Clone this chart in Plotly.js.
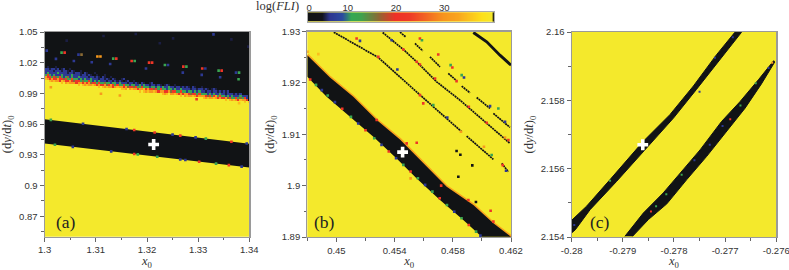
<!DOCTYPE html>
<html><head><meta charset="utf-8">
<script src="https://cdn.plot.ly/plotly-3.0.1.min.js"></script>
<style>html,body{margin:0;padding:0;background:#fff}#c{width:789px;height:270px}</style>
</head><body><div id="c"></div>
<script>
// ---------- colour scale levels (bar units, labels 0,10,20,30 sit at barTickVals)
const barLevels=[0,1,2,3,4,5,6,7,8,9,10,11,12,13,14,15,16,17,18,19,20,21,22,23,24,25,26,27,28,29,30,31,32,33,34,35,36,37,38,38.6];
const barTickVals=[0.3,8.3,18.3,28.3];
const barTickText=['0','10','20','30'];
const BLUE=5,DIM=3.5,GREEN=10,BROWN=14.5,RED=19.5,ORANGE=29,LIGHT=33;
const LEVEL={K:0,n:DIM,B:BLUE,G:GREEN,W:BROWN,R:RED,O:ORANGE,L:LIGHT,Y:38.6};

// ---------- panel (a)
const aXTicks=[1.3,1.31,1.32,1.33,1.34];
const aXText=['1.3','1.31','1.32','1.33','1.34'];
const aYTicks=[0.87,0.9,0.93,0.96,0.99,1.02,1.05];
const aYText=['0.87','0.9','0.93','0.96','0.99','1.02','1.05'];
const aBandX=[1.3,1.34,1.34,1.3];
const aBandY=[0.9648,0.9407,0.9176,0.941];
const aTopX=[1.3,1.34,1.34,1.3];
const aTopY=[1.0168,1.0168,1.05,1.05];
// fringe cells: 100 columns, rows every 0.002 from 1.016 down
const aCellX=[];for(let c=0;c<100;c++)aCellX.push(1.3002+c*0.0004);
const aCellY=[1.016,1.014,1.012,1.01,1.008,1.006,1.004,1.002,1.0,.998,.996,.994,.992,.99,.988,.986,.984,.982];
const aRowOffset=[0,0,0,0,0,0,0,2,8,16,26,36,46,56,66,76,88,97];
const aRows=[
"KnKKKnKKKK",
"BBnBBnBKnBKKnKK",
"BBBBnBBBnBBnKBnKKnKKK",
"BGBBBBGBBBBnBBnBBnKBnKKKnKK",
"GRGBGBBBGBBBBGBBBnBBnBnKKnKKKnK",
"ORRGRWGRGBGWBGBBGBBBBnBBnBnKBnKKnK",
"LORORRORRWRGGRGGBGBGBBGBBBnBBnBnKBnKKnBK",
"LOLOORLORRORWRRGWGGRGBGBGBBBnBBnBnBnKnBKKnK",
"LYOLOOOROOROROWRRGRGGWGGBGGBGBBBnBBnBnKBnKKnBKK",
"LYLOLOOLORORROWRORGRGGRGGBGGBBGBGBBnBBnBnKnBnKKnKK",
"LYLOLOOROLOOROWRRWRGGRGGGBGGBGBGBBGBBnBBnBnBnKBnKKnK",
"YLLOYOLOOROOLRORRWRGRGGBGGBGBBGBBBBnBBnBBnBnKnBn",
"LYLOLOOLOROORROWRRGGRGGBGGBGBGBBnBBnBBnBnBnB",
"YLOLYOOLOROROORWRRGRGGGBGBGBBGBBnBBBnBnB",
"LYOLOOLOROOORWRGROGRGGBGBGBBBGBBB",
"YLOLOOLORORROWRGGRGWGRB",
"LYLOLORLOOR",
"LYL"];
const aCellZ=aRows.map((row,r)=>{const z=[];for(let c=0;c<100;c++){const i=c-aRowOffset[r];const ch=i<0?'Y':(i<row.length?row[i]:'K');z.push(LEVEL[ch]);}return z;});
const aSpeckX=[1.3033,1.3039,1.3066,1.3072,1.3103,1.3109,1.3134,1.314,1.317,1.3176,1.3204,1.321,1.3235,1.3241,1.3271,1.3277,1.334,1.3346,1.3308,1.3314,1.3374,1.338,
 1.3022,1.3057,1.3092,1.3128,1.3198,1.327,1.3307,1.3343,1.3379,
 1.3115,1.3043,1.3004,1.3178,1.3225,1.3251,1.333,1.3365,1.3398,
 1.3012,1.311,1.3147,1.3297,1.338,
 1.3012,1.3075,1.316,1.3175,1.3215,1.325,1.3265,1.3295,1.3315,1.3365,1.3395,
 1.302,1.3055,1.313,1.3175,1.3182,1.322,1.3265,1.3275,1.3302,1.3335,1.336,1.3385];
const aSpeckY=[1.0298,1.0298,1.0279,1.0279,1.026,1.026,1.024,1.024,1.0217,1.0217,1.0201,1.0201,1.0178,1.0178,1.0162,1.0162,1.0123,1.0123,1.0143,1.0143,1.0103,1.0103,
 1.0237,1.0217,1.0204,1.0188,1.0143,1.0103,1.0081,1.0058,1.0039,
 1.0461,1.0416,1.0318,1.048,1.039,1.0438,1.0477,1.0428,1.0357,
 .996,.9896,.9879,.9843,.9805,
 .9641,.9603,.9552,.9543,.9518,.9497,.9488,.947,.9458,.9428,.941,
 .9398,.9378,.9334,.9308,.9304,.9281,.9255,.9249,.9233,.9214,.9199,.9185];
const aSpeckV=[GREEN,RED,BLUE,BROWN,ORANGE,ORANGE,GREEN,RED,RED,GREEN,RED,RED,GREEN,BLUE,RED,GREEN,GREEN,RED,RED,BLUE,BLUE,GREEN,
 BLUE,BLUE,BLUE,BLUE,BLUE,BLUE,BLUE,BLUE,GREEN,
 DIM,DIM,BLUE,DIM,DIM,DIM,BLUE,DIM,DIM,
 ORANGE,ORANGE,ORANGE,RED,LIGHT,
 GREEN,BLUE,BLUE,RED,RED,BLUE,RED,BLUE,GREEN,RED,BLUE,
 GREEN,BLUE,BLUE,RED,GREEN,GREEN,BLUE,BLUE,RED,GREEN,RED,BLUE];
const aCross=[[1.3213],[0.9401]];

// ---------- panel (b)
const bXTicks=[0.45,0.454,0.458,0.462];
const bXText=['0.45','0.454','0.458','0.462'];
const bYTicks=[1.89,1.9,1.91,1.92,1.93];
const bYText=['1.89','1.9','1.91','1.92','1.93'];
const bUpperX=[.448,.44956,.45116,.45277,.45437,.45574,.45758,.45941,.46079,.462];
const bUpperY=[1.9254,1.92105,1.91729,1.91276,1.909,1.90498,1.89979,1.89622,1.89266,1.89006];
const bLowerX=[.45998,.45872,.45712,.45552,.45414,.45254,.45093,.44933,.448];
const bLowerY=[1.89006,1.89331,1.89719,1.90141,1.9053,1.90951,1.9134,1.91729,1.92118];
const bLineX=[.44982,.45288,.45448,.45574,.45666,.45861,null,
 .45318,.4546,.45552,.45689,.45849,.46033,.46193,null,
 .45437,.45476,null,.4554,.45593,null,.45643,.45712,null,.45769,.45826,null,.45861,.45918,null,.45964,.46056,null,.46079,.46193,null,
 .45895,.46079,null,.46136,.46182];
const bLineY=[1.92987,1.92494,1.92086,1.91762,1.91535,1.91049,null,
 1.92981,1.9265,1.9241,1.92021,1.91664,1.91211,1.90822,null,
 1.92987,1.92896,null,1.92767,1.92624,null,1.92507,1.92313,null,1.92183,1.92041,null,1.91937,1.91807,null,1.91716,1.91502,null,1.91405,1.91133,null,
 1.90964,1.90511,null,1.90433,1.90271];
const bThickX=[.45941,.46033,.46124,.462];
const bThickY=[1.92981,1.92799,1.9254,1.92345];
const bSpeckX=[.45139,.45162,.45288,.45419,.45574,.45597,.45666,.45762,.45856,
 .4538,.4546,.45552,.45574,.45678,.4591,.46033,.46182,.46159,
 .45574,.45588,.457,.45785,.45797,.45861,.45877,.45826,.46113,.46056,.46159,.46014,.46067,.46166,.46143,
 .45552,.4551,.4606,.44876,.448,
 .45826,.45852,.45934,.45838,.45959,
 .4482,.4486,.449,.4494,.4499,.4504,.451,.4515,.452,.4526,.4531,.4536,.4541,.4546,.4551,.4556,.4561,.4566,.4571,.4576,.4581,.4586,.4591,.4596,.4599,
 .45277,.45483,.4572,.45907,.46079];
const bSpeckY=[1.92864,1.92818,1.92507,1.92261,1.91762,1.916,1.91567,1.91327,1.91049,
 1.92831,1.9265,1.9241,1.92358,1.92086,1.91535,1.91224,1.90887,1.90938,
 1.92864,1.92831,1.92553,1.92345,1.923,1.92151,1.92105,1.92034,1.91502,1.91548,1.91243,1.90757,1.90595,1.9029,1.904,
 1.90835,1.90141,1.89512,1.92559,1.92605,
 1.90673,1.90601,1.90394,1.90173,1.89681,
 1.92066,1.91962,1.91858,1.91754,1.91625,1.91495,1.91339,1.91209,1.91079,1.90923,1.90793,1.90664,1.90534,1.90404,1.90274,1.90144,1.90014,1.89884,1.89754,1.89624,1.89494,1.89364,1.89234,1.89104,1.89026,
 1.91276,1.90822,1.9,1.8972,1.8930];
const bSpeckV=[RED,BLUE,RED,BLUE,RED,RED,GREEN,BLUE,ORANGE,
 BLUE,RED,RED,RED,RED,RED,RED,RED,ORANGE,
 RED,GREEN,RED,GREEN,RED,GREEN,BLUE,RED,GREEN,BLUE,BLUE,ORANGE,GREEN,BLUE,RED,
 RED,ORANGE,RED,LIGHT,ORANGE,
 0,0,0,0,0,
 RED,GREEN,BLUE,GREEN,BLUE,RED,GREEN,BLUE,RED,GREEN,BLUE,RED,BLUE,GREEN,RED,GREEN,BLUE,GREEN,RED,GREEN,BLUE,GREEN,RED,GREEN,BLUE,
 RED,RED,RED,RED,RED];
const bCross=[[0.45455],[1.90653]];

// ---------- panel (c)
const cXTicks=[-0.28,-0.279,-0.278,-0.277,-0.276];
const cXText=['-0.28','-0.279','-0.278','-0.277','-0.276'];
const cYTicks=[2.154,2.156,2.158,2.16];
const cYText=['2.154','2.156','2.158','2.16'];
const cBand1X=[-.28,-.27971,-.27925,-.2786,-.27808,-.27762,-.27717,-.27681,-.27668,-.2771,-.27756,-.27801,-.27853,-.27912,-.27964,-.27993,-.28];
const cBand1Y=[2.15449,2.1549,2.15568,2.1568,2.15758,2.15842,2.15933,2.15999,2.15999,2.15918,2.15832,2.15748,2.1566,2.15563,2.1548,2.15421,2.15412];
const cBand2X=[-.27896,-.2786,-.27821,-.27788,-.27749,-.27707,-.27671,-.27635,-.27605,-.27603,-.27629,-.27661,-.27697,-.27736,-.27775,-.27814,-.2785,-.27881];
const cBand2Y=[2.15402,2.1547,2.15529,2.15587,2.15655,2.15738,2.15796,2.1586,2.15916,2.15912,2.15848,2.15777,2.15709,2.15636,2.15568,2.15497,2.15451,2.15402];
const cSpeckX=[-.27995,-.27925,-.2775,-.2772,-.27685,-.27845,-.27835,-.27815,-.27785,-.2776,-.2773,-.27705,-.2769,-.2767,-.2764,-.27615,-.27608];
const cSpeckY=[2.15435,2.15565,2.15825,2.15925,2.15985,2.15475,2.1549,2.15525,2.15582,2.15625,2.1567,2.15725,2.15745,2.15785,2.1585,2.15895,2.1591];
const cSpeckV=[BLUE,GREEN,BLUE,BLUE,BLUE,RED,GREEN,GREEN,GREEN,BLUE,BLUE,BLUE,RED,GREEN,GREEN,BLUE,ORANGE];
const cCross=[[-0.27861],[2.1567]];

// ---------- styling
const W=789,H=270;
const YEL='#f4e92c',BLK='#111315';
const stops=[[0,BLK],[3,'#12131c'],[4.5,'#2d3590'],[7,'#2b4aa0'],[9,'#35a853'],[11,'#3fa24e'],[14.5,'#8a6a35'],[18,'#ee3127'],[21,'#ee3a27'],[28,'#f7941d'],[31,'#f9a51e'],[36,'#fde01a'],[38.6,YEL]];
const cs=stops.map(s=>[s[0]/38.6,s[1]]);
const tickFont={family:'Liberation Sans, Arial, sans-serif',size:9.5,color:'#333'};
const titleFont={family:'Liberation Serif, serif',size:12.5,color:'#333'};
const poly=(x,y,color,ax,w)=>({type:'scatter',mode:'lines',x:x,y:y,fill:'toself',fillcolor:color,line:{width:w||0,color:color},xaxis:ax[0],yaxis:ax[1],hoverinfo:'skip'});
const specks=(x,y,v,ax,size)=>({type:'scatter',mode:'markers',x:x,y:y,marker:{symbol:'square',size:size,color:v,colorscale:cs,cmin:0,cmax:38.6,line:{width:0}},xaxis:ax[0],yaxis:ax[1],hoverinfo:'skip'});
const cross=(c,ax)=>({type:'scatter',mode:'markers',x:c[0],y:c[1],marker:{symbol:'cross',size:9,color:'#fff',line:{width:0}},xaxis:ax[0],yaxis:ax[1],hoverinfo:'skip'});
const A=['x','y'],B=['x2','y2'],C=['x3','y3'];

const traces=[
 {type:'heatmap',x:aCellX,y:aCellY,z:aCellZ,colorscale:cs,zmin:0,zmax:38.6,showscale:false,xaxis:'x',yaxis:'y',hoverinfo:'skip'},
 poly(aTopX,aTopY,BLK,A),
 poly(aBandX,aBandY,BLK,A),
 specks(aSpeckX,aSpeckY,aSpeckV,A,2.6),
 cross(aCross,A),
 {type:'scatter',mode:'lines',x:bUpperX,y:bUpperY,line:{color:'#f9a11e',width:3},xaxis:'x2',yaxis:'y2',hoverinfo:'skip'},
 poly(bUpperX.concat(bLowerX),bUpperY.concat(bLowerY),BLK,B),
 {type:'scatter',mode:'lines',x:bLineX,y:bLineY,line:{color:BLK,width:1.7,dash:'2px,0.6px'},xaxis:'x2',yaxis:'y2',hoverinfo:'skip'},
 {type:'scatter',mode:'lines',x:bThickX,y:bThickY,line:{color:BLK,width:2.8},xaxis:'x2',yaxis:'y2',hoverinfo:'skip'},
 specks(bSpeckX,bSpeckY,bSpeckV,B,2.6),
 cross(bCross,B),
 poly(cBand1X,cBand1Y,BLK,C,1),poly(cBand2X,cBand2Y,BLK,C,1),
 specks(cSpeckX,cSpeckY,cSpeckV,C,2),
 cross(cCross,C),
 {type:'heatmap',x:barLevels,y:[0,1],z:[barLevels,barLevels],colorscale:cs,zmin:0,zmax:38.6,showscale:false,zsmooth:'best',xaxis:'x4',yaxis:'y4',hoverinfo:'skip'},
 {type:'scatter',mode:'lines',x:[38.45,38.45],y:[0,1],line:{color:'#111',width:1.2},xaxis:'x4',yaxis:'y4',hoverinfo:'skip'}
];
const xdom=(l,r)=>[l/W,r/W],ydom=(t,b)=>[1-b/H,1-t/H];
const minorT=(d,t0)=>({dtick:d,tick0:t0,ticks:'outside',ticklen:2.5,tickcolor:'#666'});
const base=(over)=>Object.assign({showgrid:false,zeroline:false,showline:true,linecolor:'#9a9a9a',linewidth:1.2,mirror:true,ticks:'outside',ticklen:4,tickcolor:'#666',tickwidth:1,tickfont:tickFont,tickmode:'array',layer:'above traces',ticklabeloverflow:'allow'},over);
const xTitle={text:'<i>x</i><sub>0</sub>',font:titleFont,standoff:0};
const yTitle={text:'(d<i>y</i>/d<i>t</i>)<sub>0</sub>',font:titleFont,standoff:4};
const layout={
 width:W,height:H,margin:{l:0,r:0,t:0,b:0},paper_bgcolor:'#fff',plot_bgcolor:YEL,showlegend:false,
 xaxis:base({domain:xdom(44.7,249.3),range:[1.3,1.34],tickvals:aXTicks,ticktext:aXText,anchor:'y',minor:minorT(0.005,1.3),title:xTitle}),
 yaxis:base({domain:ydom(32,236.7),range:[0.85,1.05],tickvals:aYTicks,ticktext:aYText,anchor:'x',minor:minorT(0.015,0.87),title:yTitle}),
 xaxis2:base({domain:xdom(307.3,511),range:[0.448,0.462],tickvals:bXTicks,ticktext:bXText,anchor:'y2',minor:minorT(0.002,0.448),title:xTitle}),
 yaxis2:base({domain:ydom(31.5,237),range:[1.89,1.93],tickvals:bYTicks,ticktext:bYText,anchor:'x2',minor:minorT(0.005,1.89),title:yTitle}),
 xaxis3:base({domain:xdom(571.7,776.3),range:[-0.28,-0.275999],tickvals:cXTicks,ticktext:cXText,anchor:'y3',minor:minorT(0.0005,-0.28),title:xTitle}),
 yaxis3:base({domain:ydom(32,237),range:[2.154,2.16],tickvals:cYTicks,ticktext:cYText,anchor:'x3',minor:minorT(0.001,2.154),title:yTitle}),
 xaxis4:{domain:xdom(307.7,494),range:[0,38.6],side:'top',anchor:'y4',tickmode:'array',tickvals:barTickVals,ticktext:barTickText,ticks:'',tickfont:tickFont,ticklabelstandoff:-3,showgrid:false,zeroline:false,showline:true,mirror:true,linecolor:'#aaa',linewidth:1},
 yaxis4:{domain:ydom(12.3,21.7),range:[0,1],anchor:'x4',showticklabels:false,ticks:'',showgrid:false,zeroline:false,showline:true,mirror:true,linecolor:'#aaa',linewidth:1},
 annotations:[
  {text:'log(<i>FLI</i>)',xref:'paper',yref:'paper',x:277/W,y:1-5.5/H,xanchor:'center',yanchor:'middle',showarrow:false,font:{family:'Liberation Serif, serif',size:12.5,color:'#333'}},
  {text:'(a)',xref:'paper',yref:'paper',x:66/W,y:1-222/H,xanchor:'center',yanchor:'middle',showarrow:false,font:{family:'Liberation Serif, serif',size:17.5,color:'#222'}},
  {text:'(b)',xref:'paper',yref:'paper',x:324/W,y:1-222/H,xanchor:'center',yanchor:'middle',showarrow:false,font:{family:'Liberation Serif, serif',size:17.5,color:'#222'}},
  {text:'(c)',xref:'paper',yref:'paper',x:599.5/W,y:1-222/H,xanchor:'center',yanchor:'middle',showarrow:false,font:{family:'Liberation Serif, serif',size:17.5,color:'#222'}}
 ]
};
Plotly.newPlot('c',traces,layout,{staticPlot:true,displayModeBar:false});
</script></body></html>
